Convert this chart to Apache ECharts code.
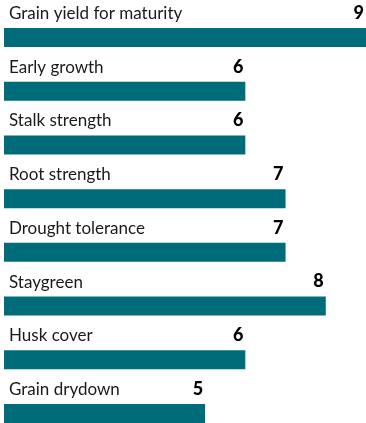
<!DOCTYPE html>
<html>
<head>
<meta charset="utf-8">
<style>
  html, body { margin: 0; padding: 0; background: #ffffff; }
  #chart { width: 366px; height: 423px; }
</style>
<script src="https://cdn.jsdelivr.net/npm/echarts@6/dist/echarts.min.js"></script>
</head>
<body>
<div id="chart"></div>
<script>
// Trait ratings on a 1–9 scale
const traits = [
  'Grain yield for maturity',
  'Early growth',
  'Stalk strength',
  'Root strength',
  'Drought tolerance',
  'Staygreen',
  'Husk cover',
  'Grain drydown'
];
const ratings = [9, 6, 6, 7, 7, 8, 6, 5];
const scaleMax = 9;

const barColor = '#006c79';
const textFont = 'Lato';

const chart = echarts.init(document.getElementById('chart'), null, { renderer: 'canvas' });

chart.setOption({
  animation: false,
  grid: { left: 4, right: -2, top: 37.5, bottom: 9.5 },
  xAxis: {
    type: 'value',
    min: 0,
    max: scaleMax,
    show: false
  },
  yAxis: {
    type: 'category',
    data: traits,
    inverse: true,
    boundaryGap: false,
    show: false
  },
  series: [
    {
      // rating bars with the score above the bar's right end
      type: 'bar',
      data: ratings,
      barWidth: 19,
      itemStyle: { color: barColor },
      silent: true,
      label: {
        show: true,
        position: ['100%', 0],
        align: 'right',
        verticalAlign: 'bottom',
        offset: [-2, -6],
        formatter: '{c}',
        color: '#000000',
        fontFamily: textFont,
        fontWeight: 900,
        fontSize: 18,
        lineHeight: 18
      }
    },
    {
      // trait names above the bar's left end
      type: 'bar',
      data: ratings,
      barWidth: 19,
      barGap: '-100%',
      itemStyle: { color: 'rgba(0,0,0,0)' },
      silent: true,
      label: {
        show: true,
        position: [5, 0],
        align: 'left',
        verticalAlign: 'bottom',
        offset: [0, -6],
        formatter: '{b}',
        color: '#1a1a1a',
        fontFamily: textFont,
        fontSize: 17,
        lineHeight: 17
      }
    }
  ]
});
</script>
</body>
</html>
